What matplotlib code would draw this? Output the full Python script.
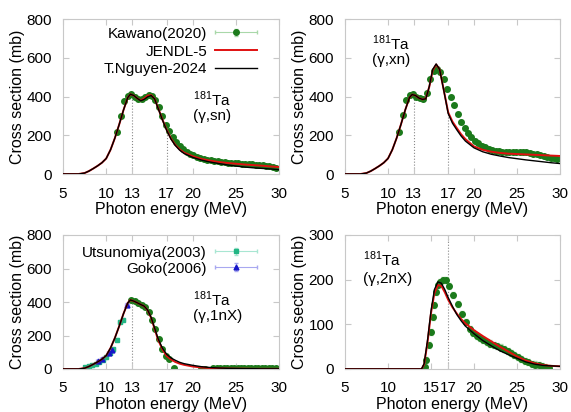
import matplotlib
matplotlib.use("Agg")
import numpy as np
import matplotlib.pyplot as plt
from matplotlib.legend_handler import HandlerErrorbar

plt.rcParams['font.family'] = ['Liberation Sans', 'DejaVu Sans']
plt.rcParams['font.size'] = 11

# calculated curves, energy grid in MeV
e_calc = [5, 6, 6.8, 7.5, 8, 8.5, 9, 9.5, 10, 10.5, 11, 11.5, 12, 12.5, 12.8, 13.2, 13.6, 14, 14.4, 14.8,
          15.2, 15.6, 16, 16.5, 17, 17.5, 18, 18.5, 19, 20, 21, 22, 23, 24, 25, 26, 27, 28, 29, 30]

sn_jendl = [0, 0, 0, 5, 15, 28, 42, 58, 80, 125, 185, 255, 330, 395, 412, 405, 390, 380, 390, 405,
            407, 388, 342, 282, 228, 183, 150, 127, 110, 92, 78, 69, 62, 57, 53, 49, 46, 43, 39, 36]
sn_nguyen = [0, 0, 0, 5, 15, 28, 42, 58, 80, 125, 185, 255, 330, 395, 412, 405, 390, 378, 385, 398,
             405, 388, 340, 280, 225, 180, 147, 123, 106, 86, 72, 62, 54, 47, 41, 36, 32, 29, 26, 22]

xn_jendl = [0, 0, 0, 5, 15, 28, 42, 58, 80, 125, 185, 255, 330, 395, 410, 405, 392, 385, 390, 450,
            535, 565, 540, 430, 318, 270, 237, 205, 180, 142, 125, 115, 109, 105, 103, 101, 99, 97, 95, 93]
xn_nguyen = [0, 0, 0, 5, 15, 28, 42, 58, 80, 125, 185, 255, 330, 395, 410, 405, 392, 385, 388, 452,
             540, 568, 540, 428, 312, 262, 228, 196, 170, 135, 115, 102, 93, 85, 79, 73, 68, 63, 58, 54]

n1_jendl = [0, 0, 0, 5, 15, 28, 42, 58, 80, 125, 185, 255, 330, 395, 412, 405, 395, 385, 375, 350,
            305, 240, 175, 118, 78, 57, 42, 32, 25, 15, 9, 6, 4, 3, 2, 2, 1, 1, 1, 1]
n1_nguyen = [0, 0, 0, 5, 15, 28, 42, 58, 80, 125, 185, 255, 330, 395, 412, 405, 395, 385, 375, 352,
             308, 245, 182, 125, 88, 66, 52, 40, 32, 22, 14, 9, 6, 4, 3, 2, 2, 1, 1, 1]

e_calc2 = [5, 10, 13.9, 14.2, 14.6, 15.0, 15.4, 15.8, 16.2, 16.6, 17, 17.5, 18, 18.5, 19, 20, 21, 22, 23,
           24, 25, 26, 27, 28, 29, 30]
n2_jendl = [0, 0, 0, 10, 60, 125, 170, 188, 186, 172, 155, 138, 124, 112, 102, 87, 74, 62, 50, 39, 28,
            19, 13, 9, 7, 6]
n2_nguyen = [0, 0, 0, 12, 65, 130, 178, 195, 192, 178, 160, 140, 122, 108, 96, 79, 64, 52, 41, 32, 24,
             16, 11, 8, 7, 6]

# Kawano(2020) data
kw_e = [11.3, 11.7, 12.1, 12.5, 12.9, 13.3, 13.7, 14.1, 14.5, 14.9, 15.3, 15.7, 16.1, 16.5, 16.9, 17.3,
        17.7, 18.1, 18.5, 18.9, 19.3, 19.7, 20.1, 20.5, 20.9, 21.3, 21.7, 22.1, 22.5, 22.9, 23.3, 23.7,
        24.1, 24.5, 24.9, 25.3, 25.7, 26.1, 26.5, 26.9, 27.3, 27.7, 28.1, 28.5, 28.9, 29.3, 29.7]
kw_sn = [215, 300, 375, 405, 412, 400, 388, 385, 398, 410, 405, 380, 345, 300, 255, 220, 190, 165, 145,
         128, 115, 105, 96, 88, 82, 77, 73, 70, 67, 65, 63, 61, 59, 57, 56, 55, 54, 53, 51, 50, 48, 46,
         44, 42, 39, 36, 33]
kw_xn = [215, 305, 380, 410, 412, 400, 390, 385, 420, 490, 530, 540, 525, 490, 440, 395, 355, 310, 270,
         240, 212, 190, 172, 158, 146, 137, 130, 124, 120, 117, 115, 113, 112, 113, 114, 115, 114, 112,
         109, 105, 101, 97, 93, 89, 85, 81, 78]

kw1_e = [12.9, 13.3, 13.7, 14.1, 14.5, 14.9, 15.3, 15.7, 16.1, 16.5, 16.9, 17.3, 17.9, 21.0, 21.4,
         22.4, 22.8, 23.2, 23.6, 24.0, 24.4, 24.8, 25.2, 25.6, 26.0, 26.4, 26.8, 27.2, 27.6, 28.0,
         28.4, 28.8, 29.2, 29.6]
kw_1n = [412, 405, 395, 385, 370, 340, 295, 240, 180, 120, 80, 58, 8, 0, 0, 4, 4, 5, 5, 5, 5, 5, 5,
         5, 5, 5, 5, 5, 5, 5, 4, 4, 4, 4]

kw2_e = [14.3, 14.45, 14.75, 15.0, 15.2, 15.4, 15.6, 15.8, 16.0, 16.35, 16.7, 17.1, 17.6, 18.1, 18.6,
         19.1, 19.5, 19.9, 20.3, 20.7, 21.1, 21.5, 21.9, 22.3, 22.7, 23.1, 23.5, 23.9, 24.3, 24.7, 25.1,
         25.5, 25.9, 26.3, 26.7, 27.1, 27.5, 27.9, 28.3, 28.7]
kw_2n = [5, 20, 54, 83, 117, 143, 172, 188, 195, 199, 200, 186, 166, 146, 123, 106, 90, 80, 74, 69, 65,
         61, 57, 54, 51, 48, 44, 40, 36, 31, 27, 22, 18, 15, 12, 10, 8, 6, 4, 2]

# Utsunomiya(2003) and Goko(2006)
ut_e = [7.6, 8.0, 8.4, 8.8, 9.2, 9.6, 10.0, 10.4, 10.8, 11.2, 11.6, 12.0]
ut_1n = [10, 15, 22, 30, 42, 55, 70, 95, 120, 175, 282, 295]
gk_e = [9.0, 9.5, 10.3, 10.7, 12.4]
gk_1n = [45, 58, 95, 115, 385]

W, H = 571, 412
fig = plt.figure(figsize=(W / 100, H / 100), dpi=100)

# legend error bars drawn mostly horizontal, like the gnuplot keys
eb_handler = HandlerErrorbar(xerr_size=1.35, yerr_size=0.25)


def make_ax(l, t, r, b):
    return fig.add_axes([l / W, 1 - b / H, (r - l) / W, (b - t) / H])


def style(ax, xticks, ymax, ystep):
    ax.set_xlim(5, 30)
    ax.set_ylim(0, ymax)
    ax.set_xticks(xticks)
    ax.set_yticks(np.arange(0, ymax + 1, ystep))
    ax.tick_params(direction='in', top=True, right=True, length=4, width=0.8,
                   color='#c8c8c8', labelsize=11)
    ax.tick_params(axis='x', pad=9)
    ax.tick_params(axis='y', pad=8)
    for s in ax.spines.values():
        s.set_color('#c8c8c8')
        s.set_linewidth(0.8)
    ax.set_xlabel('Photon energy (MeV)', fontsize=11.5, labelpad=1)
    ax.set_ylabel('Cross section (mb)', fontsize=11.5, labelpad=1)


def kawano(ax, e, y, yerr):
    return ax.errorbar(e, y, xerr=0.2, yerr=yerr, fmt='o', ms=4, color='#1b7a1b', mec='#1b7a1b',
                       ecolor='#a9d8a9', elinewidth=0.8, capsize=1.5, label='Kawano(2020)', zorder=2)


def curves(ax, e, red, black):
    l1, = ax.plot(e, red, color='#e01010', lw=1.4, label='JENDL-5', zorder=3)
    l2, = ax.plot(e, black, color='black', lw=1.0, label='T.Nguyen-2024', zorder=4)
    return l1, l2


def dotted(ax, e, y, at):
    for x in at:
        ax.plot([x, x], [0, np.interp(x, e, y)], ls=':', color='#888888', lw=0.8, zorder=1)


def label(ax, x, y1, y2, reaction):
    ax.text(x, y1, r'$^{\mathregular{181}}$Ta', transform=ax.transAxes, fontsize=11, va='baseline')
    ax.text(x, y2, reaction, transform=ax.transAxes, fontsize=11, va='baseline')


xt = [5, 10, 13, 17, 20, 25, 30]

# (g,sn)
ax1 = make_ax(63, 19, 279, 174)
k1 = kawano(ax1, kw_e, kw_sn, 8)
r1, b1 = curves(ax1, e_calc, sn_jendl, sn_nguyen)
dotted(ax1, e_calc, sn_jendl, [13, 17])
style(ax1, xt, 800, 200)
label(ax1, 0.60, 0.44, 0.35, '(γ,sn)')
ax1.legend([k1, r1, b1], ['Kawano(2020)', 'JENDL-5', 'T.Nguyen-2024'],
           loc='upper right', bbox_to_anchor=(0.90, 0.95), frameon=False, markerfirst=False,
           handlelength=2.8, handletextpad=0.5, labelspacing=0.25, borderaxespad=0, borderpad=0,
           fontsize=11, handler_map={k1: eb_handler})

# (g,xn)
ax2 = make_ax(345, 19, 560, 174)
kawano(ax2, kw_e, kw_xn, 10)
curves(ax2, e_calc, xn_jendl, xn_nguyen)
dotted(ax2, e_calc, xn_jendl, [13, 17])
style(ax2, xt, 800, 200)
label(ax2, 0.125, 0.80, 0.71, '(γ,xn)')

# (g,1nX)
ax3 = make_ax(63, 235, 279, 369)
u3 = ax3.errorbar(ut_e, ut_1n, xerr=0.2, yerr=8, fmt='s', ms=3.5, color='#22b584', ecolor='#a8e6d2',
                  elinewidth=0.8, capsize=1.5, label='Utsunomiya(2003)', zorder=2)
g3 = ax3.errorbar(gk_e, gk_1n, xerr=0.2, yerr=8, fmt='^', ms=3.5, color='#1515c8', ecolor='#a8a8f0',
                  elinewidth=0.8, capsize=1.5, label='Goko(2006)', zorder=2)
ax3.plot(kw1_e, kw_1n, 'o', ms=4, color='#1b7a1b', zorder=2)
ax3.plot(e_calc, n1_jendl, color='#e01010', lw=1.4, zorder=3)
ax3.plot(e_calc, n1_nguyen, color='black', lw=1.0, zorder=4)
dotted(ax3, e_calc, n1_jendl, [13])
style(ax3, xt, 800, 200)
label(ax3, 0.60, 0.47, 0.365, '(γ,1nX)')
ax3.legend([u3, g3], ['Utsunomiya(2003)', 'Goko(2006)'],
           loc='upper right', bbox_to_anchor=(0.90, 0.92), frameon=False, markerfirst=False,
           handlelength=2.8, handletextpad=0.5, labelspacing=0.12, borderaxespad=0, borderpad=0,
           fontsize=11, handler_map={u3: eb_handler, g3: eb_handler})

# (g,2nX)
ax4 = make_ax(345, 235, 560, 369)
kawano(ax4, kw2_e, kw_2n, 7)
curves(ax4, e_calc2, n2_jendl, n2_nguyen)
ax4.axvline(17, ls=':', color='#888888', lw=0.8, zorder=1)
style(ax4, [5, 10, 15, 17, 20, 25, 30], 300, 100)
label(ax4, 0.085, 0.77, 0.645, '(γ,2nX)')

fig.savefig('out.png', dpi=100)
